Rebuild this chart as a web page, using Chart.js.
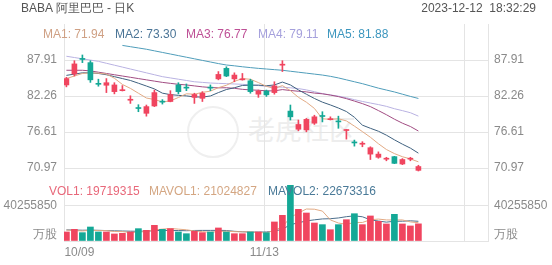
<!DOCTYPE html>
<html><head><meta charset="utf-8">
<script src="https://cdn.jsdelivr.net/npm/chart.js@4.4.0/dist/chart.umd.min.js"></script>
<style>
html,body{margin:0;padding:0;background:#fff;}
#wrap{position:relative;width:552px;height:265px;overflow:hidden;font-family:"Liberation Sans",Arial,sans-serif;font-size:12px;}
.t{position:absolute;white-space:nowrap;line-height:14px;}
canvas{position:absolute;left:0;}
#wmc{position:absolute;left:187px;top:106px;width:48px;height:48px;border:2px solid #efefef;border-radius:50%;}
#wmt{position:absolute;left:248px;top:114px;font-size:27px;line-height:30px;color:#ededed;font-family:"Noto Sans CJK SC",sans-serif;}
</style></head><body>
<div id="wrap">
 <div id="wmc"></div>
 <div id="wmt">老虎社区</div>
 <canvas id="main" width="552" height="190" style="top:0"></canvas>
 <canvas id="vol" width="552" height="117" style="top:148px"></canvas>
 <div class="t" style="left:21px;top:1px;color:#555">BABA 阿里巴巴 - 日K</div>
 <div class="t" style="right:16px;top:1px;color:#555">2023-12-12&nbsp;&nbsp;18:32:29</div>
 <div class="t" style="left:43px;top:27px;color:#cfa084">MA1: 71.94</div>
 <div class="t" style="left:115px;top:27px;color:#4a7496">MA2: 73.30</div>
 <div class="t" style="left:186px;top:27px;color:#be5096">MA3: 76.77</div>
 <div class="t" style="left:258px;top:27px;color:#a5a0dc">MA4: 79.11</div>
 <div class="t" style="left:327px;top:27px;color:#3c96be">MA5: 81.88</div>
 <div class="t" style="left:49px;top:184px;color:#e8687a">VOL1: 19719315</div>
 <div class="t" style="left:149px;top:184px;color:#d4a682">MAVOL1: 21024827</div>
 <div class="t" style="left:268px;top:184px;color:#4a7a98">MAVOL2: 22673316</div>
</div>
<script>
const dates = ['10/09','10/10','10/11','10/12','10/13','10/16','10/17','10/18','10/19','10/20','10/23','10/24','10/25','10/26','10/27','10/30','10/31',
 '11/01','11/02','11/03','11/06','11/07','11/08','11/09','11/10','11/13','11/14','11/15','11/16','11/17','11/20','11/21','11/22','11/24','11/27','11/28','11/29','11/30',
 '12/01','12/04','12/05','12/06','12/07','12/08','12/11'];
const opens  = [84.0,85.7,88.1,87.5,84.2,83.95,82.95,83.1,81.6,80.4,79.55,80.7,81.4,81.4,84.0,83.6,82.05,81.9,83.6,84.95,86.6,84.95,84.8,84.65,82.55,83.05,82.8,87.1,79.9,77.05,76.95,78.0,79.2,78.55,78.3,76.85,75.0,74.7,73.15,72.65,72.35,72.75,71.6,72.35,70.6];
const highs  = [85.2,87.8,88.7,87.8,84.9,85.0,84.35,83.9,82.3,80.9,80.85,83.2,81.7,83.1,84.35,84.15,82.7,82.95,84.0,86.1,86.85,85.9,85.8,84.9,83.2,83.2,84.5,87.8,80.85,78.5,78.75,79.25,79.8,79.0,79.1,77.0,75.35,75.1,74.3,73.5,72.65,72.8,72.45,72.65,71.4];
const lows   = [83.7,85.4,87.5,84.4,83.8,82.8,82.6,83.05,81.1,79.8,79.1,80.6,81.0,81.35,82.6,83.1,81.1,81.4,83.1,84.8,85.3,84.5,84.75,82.7,82.05,82.2,82.55,86.1,78.5,76.8,76.65,77.8,78.2,78.5,77.2,75.5,74.4,74.3,72.3,72.5,72.1,71.65,71.5,72.1,70.5];
const closes = [85.0,87.3,88.0,84.8,84.1,84.35,84.0,83.15,81.7,80.3,80.6,82.8,81.3,82.5,82.95,83.5,82.5,82.7,83.5,85.65,85.4,85.55,84.9,82.95,83.05,82.45,83.85,87.2,79.0,77.8,78.6,79.0,79.05,78.6,78.2,76.95,74.9,74.75,74.15,73.15,72.4,71.7,72.3,72.4,71.2];
const volumes = [10400000,13400000,9600000,16100000,10400000,10400000,8100000,8800000,10400000,14200000,12300000,18000000,13400000,14200000,10400000,8400000,11100000,9600000,10400000,15000000,10400000,8400000,8400000,10400000,10400000,9600000,21900000,29500000,64000000,36400000,32200000,20700000,18800000,13000000,18800000,24500000,31400000,18800000,28800000,22600000,19600000,30700000,19600000,17300000,19719315];
const ma1 = [85.0,85.4,85.8,85.9,85.84,85.71,85.05,84.08,83.46,82.7,81.95,81.71,81.34,81.5,82.03,82.61,82.55,82.83,83.03,83.57,83.95,84.56,85.0,84.89,84.37,83.78,83.44,83.9,83.11,82.06,81.29,80.32,78.69,78.61,78.69,78.36,77.54,76.68,75.79,74.78,73.87,73.23,72.74,72.39,71.94];
const ma2 = [85.5,85.7,85.9,85.9,85.8,85.6,85.3,85.0,84.7,84.27,83.83,83.38,82.71,82.48,82.37,82.28,82.13,82.09,82.27,82.8,83.28,83.56,83.92,83.96,83.97,83.87,84.0,84.45,84.0,83.22,82.54,81.88,81.3,80.86,80.38,79.83,78.93,77.69,77.2,76.74,76.12,75.39,74.71,74.09,73.30];
const ma3 = [86.3,86.3,86.3,86.2,86.0,85.8,85.6,85.4,85.2,85.0,84.8,84.6,84.4,84.25,84.1,84.0,83.85,83.7,83.6,83.54,83.56,83.47,83.31,83.22,83.17,83.07,83.07,83.27,83.13,83.01,82.91,82.72,82.61,82.41,82.17,81.85,81.47,81.07,80.6,79.98,79.33,78.63,78.0,77.48,76.77];
const ma4 = [88.5,88.3,88.1,87.9,87.7,87.4,87.1,86.8,86.5,86.2,85.9,85.6,85.3,85.1,84.9,84.7,84.5,84.4,84.3,84.25,84.2,84.15,84.1,84.0,83.9,83.8,83.7,83.65,83.55,83.43,83.22,82.94,82.64,82.43,82.24,81.99,81.69,81.41,81.16,80.92,80.64,80.27,79.97,79.64,79.11];
const ma5 = [null,null,null,null,null,null,null,90.2,90.0,89.8,89.6,89.35,89.1,88.85,88.6,88.35,88.1,87.85,87.6,87.35,87.13,87.0,86.85,86.72,86.6,86.5,86.4,86.3,86.15,86.0,85.85,85.7,85.55,85.35,85.1,84.8,84.5,84.2,83.85,83.5,83.2,82.9,82.55,82.2,81.88];
const mavol1 = [12500000,12000000,11500000,12300000,11980000,11980000,10920000,10760000,9620000,10380000,10760000,12740000,13660000,14420000,13660000,12880000,11500000,10740000,9980000,10900000,11300000,10760000,10520000,10520000,9600000,9440000,12140000,16360000,27080000,32280000,36800000,36560000,34420000,24220000,20700000,19160000,21300000,21300000,24460000,25220000,24240000,24100000,24260000,21960000,21024827];
const mavol2 = [12800000,12600000,12400000,12500000,12300000,12000000,11700000,11500000,11300000,11180000,11370000,11830000,12210000,12020000,12020000,11820000,12120000,12200000,12200000,12280000,12090000,11130000,10630000,10250000,10250000,10370000,11450000,13440000,18800000,20940000,23120000,24350000,25390000,25650000,26490000,27980000,28930000,27860000,24340000,22960000,21700000,22700000,22780000,23210000,22673316];
const priceTicks = [70.97, 76.61, 82.26, 87.91];
const volTicks = [0, 40255850];
const volTickLabels = ['万股', '40255850'];
const xTickIdx = [0, 25, 50];

const RED = '#f0455f', GREEN = '#14a896', GRID = '#e4e4e4', TXT = '#8a8a8a';
const PRICE_MAX = 93.56, VOL_MAX = 83960000;
Chart.defaults.font.family = '"Liberation Sans", Arial, sans-serif';
Chart.defaults.font.size = 12;
Chart.defaults.color = TXT;

const idx = dates.map((d, i) => i);
const cColors = idx.map(i => closes[i] >= opens[i] ? RED : GREEN);
const pts = arr => idx.map(i => ({x: i, y: arr[i]}));
const line = (arr, color, axis) => ({type: 'line', data: pts(arr), yAxisID: axis, borderColor: color, borderWidth: 1, pointRadius: 0, fill: false, tension: 0, spanGaps: false, order: 2});
const candleClip = {left: 0, top: 0, right: 0, bottom: 8};

const xScale = (showTicks) => ({
  type: 'linear', min: -0.3, max: 52.7, offset: false,
  afterBuildTicks: s => { s.ticks = xTickIdx.map(v => ({value: v - 0.25})); },
  grid: {color: GRID, drawTicks: false, offset: false},
  border: {display: false},
  ticks: {display: showTicks, align: 'inner', padding: 4, maxRotation: 0, autoSkip: false, color: TXT,
          callback: (v, i) => dates[xTickIdx[i]] || ''},
  afterFit: s => { s.height = showTicks ? 24 : 0; }
});

const yPrice = (pos) => ({
  position: pos, min: priceTicks[0], max: PRICE_MAX,
  afterBuildTicks: s => { s.ticks = priceTicks.map(v => ({value: v})); },
  ticks: {padding: pos === 'left' ? 7 : 6, color: TXT, autoSkip: false, callback: v => v.toFixed(2)},
  grid: {display: pos === 'left', color: GRID, drawTicks: false},
  border: {display: true, color: GRID},
  afterFit: s => { s.width = 64; }
});

const yVol = (pos) => ({
  position: pos, min: 0, max: VOL_MAX,
  afterBuildTicks: s => { s.ticks = volTicks.map(v => ({value: v})); },
  ticks: {padding: pos === 'left' ? 7 : 6, color: TXT, autoSkip: false, font: {lineHeight: 1.0},
          callback: (v, i) => i === 0 ? [volTickLabels[i], ''] : volTickLabels[i]},
  grid: {display: pos === 'left', color: GRID, drawTicks: false},
  border: {display: true, color: GRID},
  afterFit: s => { s.width = 64; }
});

const common = {
  responsive: false, animation: false, events: [],
  plugins: {legend: {display: false}, tooltip: {enabled: false}}
};

new Chart(document.getElementById('main'), {
  type: 'bar',
  data: {datasets: [
    {data: idx.map(i => ({x: i, y: [opens[i], closes[i]]})), yAxisID: 'y', backgroundColor: cColors, barThickness: 5, minBarLength: 1, grouped: false, order: 0, borderWidth: 0, clip: candleClip},
    {data: idx.map(i => ({x: i, y: [lows[i], highs[i]]})), yAxisID: 'y', backgroundColor: cColors, barThickness: 1, grouped: false, order: 1, borderWidth: 0, clip: candleClip},
    line(ma1, '#e2aa84', 'y'),
    line(ma2, '#3f617f', 'y'),
    line(ma3, '#a14c82', 'y'),
    line(ma4, '#b9b2e2', 'y'),
    line(ma5, '#4f9dba', 'y')
  ]},
  options: Object.assign({}, common, {
    layout: {padding: {top: 24, bottom: 22, left: 0, right: 0}},
    scales: {x: xScale(false), y: yPrice('left'), y2: yPrice('right')}
  })
});

new Chart(document.getElementById('vol'), {
  type: 'bar',
  data: {datasets: [
    {data: pts(volumes), yAxisID: 'v', backgroundColor: cColors, barThickness: 6, grouped: false, order: 0, borderWidth: 0},
    line(mavol1, '#e2aa84', 'v'),
    line(mavol2, '#4d6f8c', 'v')
  ]},
  options: Object.assign({}, common, {
    layout: {padding: {top: 20, bottom: 0, left: 0, right: 0}},
    scales: {x: xScale(true), v: yVol('left'), v2: yVol('right')}
  })
});
</script>
</body></html>
